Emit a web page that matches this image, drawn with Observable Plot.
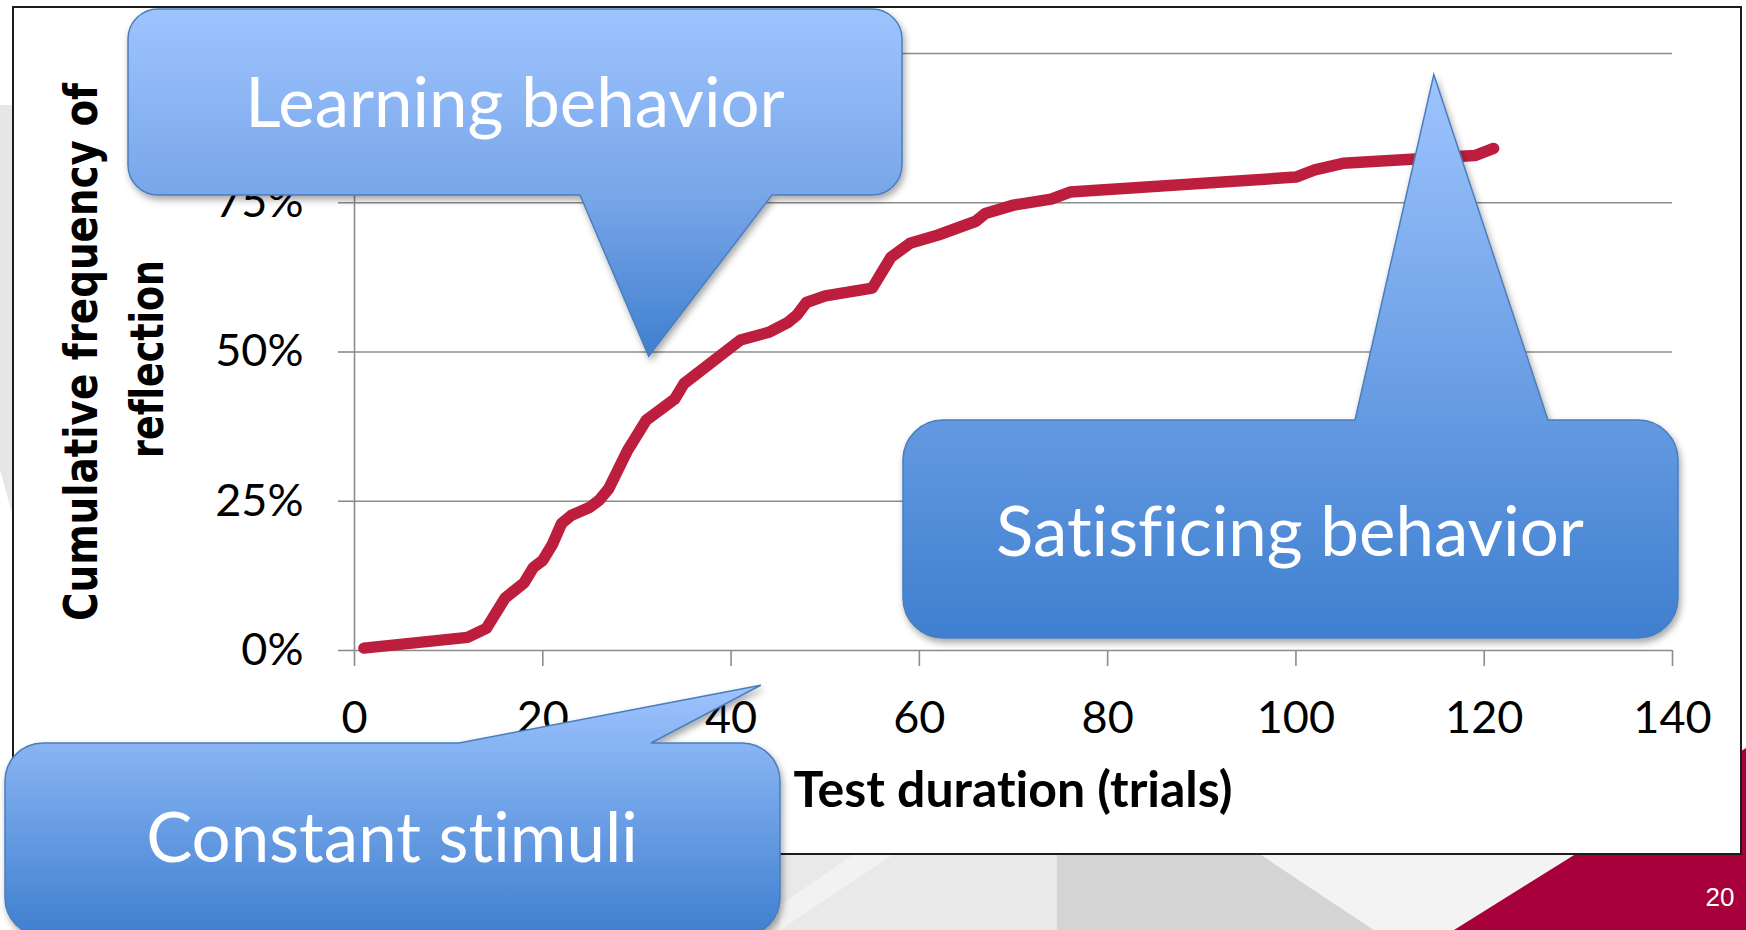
<!DOCTYPE html>
<html>
<head>
<meta charset="utf-8">
<script src="https://cdn.jsdelivr.net/npm/d3@7"></script>
<script src="https://cdn.jsdelivr.net/npm/@observablehq/plot@0.6"></script>
<style>
html, body { margin:0; padding:0; background:#fff; }
#chart { position:relative; width:1746px; height:930px; overflow:hidden; }
svg text { font-variant-ligatures: none; font-feature-settings: "liga" 0, "clig" 0, "dlig" 0; }
</style>
</head>
<body>
<div id="chart"></div>
<script>
// ---- Data ----
const trials = [1, 12, 14, 16, 18, 19, 20, 21, 22, 23, 25, 26, 27, 29, 31, 34, 35, 41, 44, 46, 47, 48, 50, 55, 56, 57, 59, 62, 66, 67, 70, 74, 76, 100, 102, 105, 119, 121];
const cumulativePct = [0.4, 2.2, 3.7, 8.8, 11.3, 13.9, 15.1, 17.7, 21.3, 22.6, 24.0, 25.2, 27.1, 33.5, 38.6, 42.1, 44.7, 52.0, 53.3, 54.9, 56.2, 58.3, 59.4, 60.7, 63.3, 65.9, 68.2, 69.6, 71.9, 73.2, 74.6, 75.6, 76.8, 79.3, 80.5, 81.6, 82.9, 84.1];
const xTicks = [0, 20, 40, 60, 80, 100, 120, 140];
const yTicks = [0, 25, 50, 75, 100];
const xTitle = "Test duration (trials)";
const yTitleLines = ["Cumulative frequency of", "reflection"];
const calloutLabels = ["Learning behavior", "Satisficing behavior", "Constant stimuli"];
// pointer tips of the callouts, in data units (trials, %)
const calloutTipX = [31.3, 114.7, 43.2];
const calloutTipY = [49.2, 96.4, -5.9];
const slideNumber = "20";

// ---- Layout ----
const W = 1746, H = 930;
const gridColor = "#8c8c8c";
const lineColor = "#be1e3d";
const calloutBoxes = [
  {x0:128, y0:9,   x1:902,  y1:195, r:30, side:"bottom", b0:580,  b1:772,  tx:515,  ty:127},
  {x0:903, y0:420, x1:1678, y1:638, r:40, side:"top",    b0:1355, b1:1548, tx:1290, ty:556},
  {x0:5,   y0:743, x1:780,  y1:936, r:38, side:"top",    b0:459,  b1:651,  tx:392,  ty:862}
];

const data = trials.map((t, i) => ({trials: t, pct: cumulativePct[i]}));

const plot = Plot.plot({
  width: W, height: H,
  marginLeft: 354, marginRight: 74, marginTop: 53, marginBottom: 280,
  style: {background: "transparent", fontFamily: "Lato, 'Open Sans', sans-serif", overflow: "visible"},
  x: {domain: [0, 140]},
  y: {domain: [0, 100]},
  marks: [
    Plot.ruleY(yTicks, {stroke: gridColor, strokeWidth: 1.6}),
    Plot.ruleX([0], {stroke: gridColor, strokeWidth: 1.6}),
    Plot.axisY(yTicks, {tickSize: 16, tickPadding: 35, tickFormat: d => d + "%", stroke: gridColor, fill: "#000", fontSize: 45, label: null}),
    Plot.axisX(xTicks, {tickSize: 16, tickPadding: 35, stroke: gridColor, fill: "#000", fontSize: 45, label: null}),
    Plot.line(data, {x: "trials", y: "pct", stroke: lineColor, strokeWidth: 11.5, strokeLinejoin: "round", strokeLinecap: "round"})
  ]
});

const svg = d3.select(plot);
svg.selectAll("[aria-label$='tick'] path, [aria-label$='tick'] line").attr("stroke", gridColor).attr("stroke-width", 1.6);
svg.selectAll("[aria-label$='tick label'] text, [aria-label$='tick label']").attr("fill", "#000");

// ---- Slide background and chart box (behind the plot) ----
const bg = svg.insert("g", ":first-child");
bg.append("rect").attr("x", 0).attr("y", 0).attr("width", W).attr("height", H).attr("fill", "#ffffff");
bg.append("polygon").attr("points", "0,105 14,105 14,520 0,470").attr("fill", "#e6e6e6");
bg.append("polygon").attr("points", "600,850 1057,850 1057,930 600,930").attr("fill", "#e9e9e9");
bg.append("polygon").attr("points", "780,930 780,905 860,850 900,850").attr("fill", "#f2f2f2");
bg.append("polygon").attr("points", "1057,850 1254,850 1374,930 1057,930").attr("fill", "#d4d4d4");
bg.append("polygon").attr("points", "1254,850 1746,850 1746,930 1374,930").attr("fill", "#f3f3f3");
bg.append("polygon").attr("points", "1454,930 1746,930 1746,748").attr("fill", "#a7003b");
bg.append("text").attr("x", 1720).attr("y", 906).attr("fill", "#fff")
  .attr("font-family", "'Liberation Sans', Arial, sans-serif").attr("font-size", 26).text(slideNumber);
bg.append("rect").attr("x", 13).attr("y", 7).attr("width", 1741 - 13).attr("height", 854 - 7)
  .attr("fill", "#fff").attr("stroke", "#1c1c1c").attr("stroke-width", 2);

const defs = svg.insert("defs", ":first-child");
const grad = defs.append("linearGradient").attr("id", "cg").attr("x1", 0).attr("y1", 0).attr("x2", 0).attr("y2", 1);
grad.append("stop").attr("offset", 0).attr("stop-color", "#9ec4fe");
grad.append("stop").attr("offset", 0.55).attr("stop-color", "#77a5e8");
grad.append("stop").attr("offset", 1).attr("stop-color", "#3f7fcf");
const grad2 = defs.append("linearGradient").attr("id", "cg2").attr("x1", 0).attr("y1", 0).attr("x2", 0).attr("y2", 1);
grad2.append("stop").attr("offset", 0).attr("stop-color", "#9ec4fe");
grad2.append("stop").attr("offset", 1).attr("stop-color", "#3f7fcf");
const filt = defs.append("filter").attr("id", "sh").attr("x", "-10%").attr("y", "-10%").attr("width", "125%").attr("height", "130%");
filt.append("feDropShadow").attr("dx", 2).attr("dy", 4).attr("stdDeviation", 3.5)
  .attr("flood-color", "#000").attr("flood-opacity", 0.35);

// ---- Axis titles ----
svg.append("text").attr("x", 1013).attr("y", 807).attr("text-anchor", "middle")
  .attr("font-family", "Lato, sans-serif").attr("font-weight", 700).attr("font-size", 50).attr("fill", "#000").text(xTitle);
const yTitlePos = [{x: 97, y: 352, len: 538}, {x: 163, y: 359, len: 198}];
yTitleLines.forEach((s, i) => {
  svg.append("text").attr("transform", `translate(${yTitlePos[i].x},${yTitlePos[i].y}) rotate(-90)`)
    .attr("text-anchor", "middle").attr("font-family", "'DejaVu Sans', sans-serif").attr("font-weight", 700)
    .attr("font-size", 46).attr("textLength", yTitlePos[i].len).attr("lengthAdjust", "spacingAndGlyphs")
    .attr("fill", "#000").text(s);
});

// ---- Callouts ----
const sx = plot.scale("x"), sy = plot.scale("y");
function calloutPath(b, tx, ty) {
  const {x0, y0, x1, y1, r, b0, b1} = b;
  const arc = (x, y) => `A${r},${r} 0 0 1 ${x},${y}`;
  if (b.side === "top") {
    return `M${x0 + r},${y0} L${b0},${y0} L${tx},${ty} L${b1},${y0} L${x1 - r},${y0} ${arc(x1, y0 + r)} L${x1},${y1 - r} ${arc(x1 - r, y1)} L${x0 + r},${y1} ${arc(x0, y1 - r)} L${x0},${y0 + r} ${arc(x0 + r, y0)} Z`;
  }
  return `M${x0 + r},${y0} L${x1 - r},${y0} ${arc(x1, y0 + r)} L${x1},${y1 - r} ${arc(x1 - r, y1)} L${b1},${y1} L${tx},${ty} L${b0},${y1} L${x0 + r},${y1} ${arc(x0, y1 - r)} L${x0},${y0 + r} ${arc(x0 + r, y0)} Z`;
}
const cg = svg.append("g");
calloutBoxes.forEach((b, i) => {
  const tx = sx.apply(calloutTipX[i]), ty = sy.apply(calloutTipY[i]);
  cg.append("path").attr("d", calloutPath(b, tx, ty)).attr("fill", i === 0 ? "url(#cg)" : "url(#cg2)")
    .attr("stroke", "#4a7ebb").attr("stroke-width", 1.5).attr("filter", "url(#sh)");
  cg.append("text").attr("x", b.tx).attr("y", b.ty).attr("text-anchor", "middle")
    .attr("font-family", "Lato, 'Open Sans', sans-serif").attr("font-size", 69).attr("fill", "#fff").text(calloutLabels[i]);
});

document.getElementById("chart").appendChild(plot);
</script>
</body>
</html>
